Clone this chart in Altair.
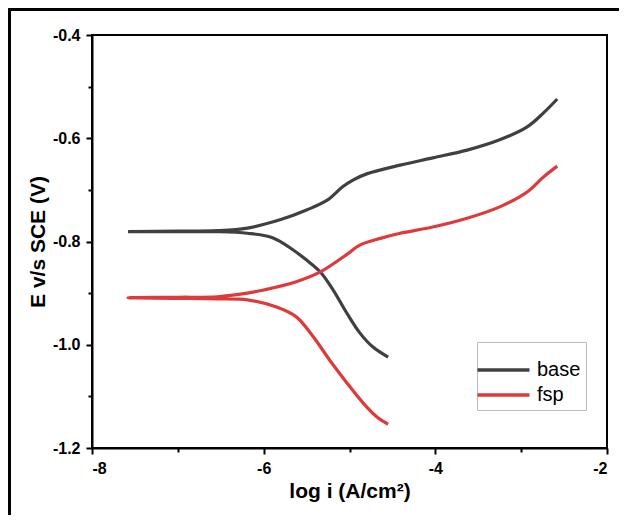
import altair as alt
import pandas as pd

# base: cathodic branch (from Ecorr outward) and anodic branch
base_cat_x = [-7.58, -7.0, -6.54, -6.19, -5.89, -5.66, -5.50, -5.34, -5.19, -5.03, -4.88, -4.73, -4.55]
base_cat_y = [-0.781, -0.781, -0.781, -0.784, -0.793, -0.816, -0.836, -0.859, -0.894, -0.939, -0.977, -1.004, -1.024]
base_an_x = [-7.58, -7.0, -6.54, -6.19, -5.81, -5.50, -5.26, -5.08, -4.96, -4.80, -4.41, -4.03, -3.63, -3.25, -2.93, -2.74, -2.58]
base_an_y = [-0.781, -0.780, -0.779, -0.774, -0.758, -0.739, -0.720, -0.694, -0.681, -0.669, -0.652, -0.638, -0.623, -0.603, -0.578, -0.551, -0.524]

# fsp
fsp_cat_x = [-7.58, -7.0, -6.54, -6.19, -5.85, -5.62, -5.42, -5.23, -5.03, -4.84, -4.68, -4.55]
fsp_cat_y = [-0.909, -0.910, -0.911, -0.913, -0.927, -0.946, -0.985, -1.030, -1.074, -1.113, -1.140, -1.154]
fsp_an_x = [-7.58, -7.0, -6.54, -6.19, -6.0, -5.62, -5.34, -5.03, -4.88, -4.64, -4.41, -4.03, -3.63, -3.25, -2.93, -2.74, -2.58]
fsp_an_y = [-0.909, -0.908, -0.907, -0.900, -0.894, -0.878, -0.859, -0.825, -0.807, -0.794, -0.784, -0.772, -0.755, -0.733, -0.704, -0.675, -0.654]

x_major = [-8, -6, -4, -2]
x_minor = [-7, -5, -3]
y_major = [-1.2, -1.0, -0.8, -0.6, -0.4]
y_minor = [-1.1, -0.9, -0.7, -0.5]

series_names = ["base", "fsp"]
series_colors = ["#404040", "#de3a3c"]


def path(name, cx, cy, ax, ay):
    xs = list(reversed(cx)) + ax[1:]
    ys = list(reversed(cy)) + ay[1:]
    return pd.DataFrame({"series": name, "x": xs, "y": ys, "order": range(len(xs))})


df = pd.concat([
    path("base", base_cat_x, base_cat_y, base_an_x, base_an_y),
    path("fsp", fsp_cat_x, fsp_cat_y, fsp_an_x, fsp_an_y),
], ignore_index=True)

FONT = "Liberation Sans"

xscale = alt.Scale(domain=[-8, -2], nice=False, zero=False)
yscale = alt.Scale(domain=[-1.2, -0.4], nice=False, zero=False)

x_label = "(datum.value < 0 ? '-' : '') + format(abs(datum.value), 'd')"
y_label = "(datum.value < 0 ? '-' : '') + format(abs(datum.value), '.1f')"

lines = alt.Chart(df).mark_line(strokeWidth=3.2, interpolate="catmull-rom").encode(
    x=alt.X("x:Q", scale=xscale, title="log i (A/cm²)",
            axis=alt.Axis(orient="bottom", values=x_major, labelExpr=x_label, tickSize=6, labelPadding=6,
                          titlePadding=4, labelFontSize=16, titleFontSize=21)),
    y=alt.Y("y:Q", scale=yscale, title="E v/s SCE (V)",
            axis=alt.Axis(orient="left", values=y_major, labelExpr=y_label, tickSize=6, labelPadding=6,
                          titlePadding=4, labelFontSize=16, titleFontSize=21)),
    color=alt.Color("series:N", scale=alt.Scale(domain=series_names, range=series_colors),
                    legend=alt.Legend(title=" ", orient="none", legendX=385, legendY=307,
                                      symbolType="M-1.5,0L2.5,0", symbolSize=676, symbolStrokeWidth=3.5,
                                      labelFontSize=20, labelFont=FONT, labelFontWeight="normal",
                                      labelColor="black",
                                      titleFontSize=8, titlePadding=0, padding=5, rowPadding=0,
                                      labelOffset=25, strokeColor="#bbbbbb", fillColor="white")),
    order="order:O",
)

minor_df = pd.DataFrame({"x": [-8.0], "y": [-1.2]})
minor = alt.Chart(minor_df).mark_point(opacity=0).encode(
    x=alt.X("x:Q", scale=xscale, title=None,
            axis=alt.Axis(orient="bottom", values=x_minor, labels=False, domain=False, tickSize=4, grid=False)),
    y=alt.Y("y:Q", scale=yscale, title=None,
            axis=alt.Axis(orient="left", values=y_minor, labels=False, domain=False, tickSize=4, grid=False)),
)

frame_df = pd.DataFrame({"a": [0]})
frame_left = alt.Chart(frame_df).mark_rule(color="black", strokeWidth=3).encode(
    x=alt.value(-82.5), y=alt.value(-27), y2=alt.value(480))
frame_top = alt.Chart(frame_df).mark_rule(color="black", strokeWidth=3).encode(
    x=alt.value(-84), x2=alt.value(527), y=alt.value(-25.5))

chart = alt.layer(lines, minor, frame_left, frame_top).resolve_axis(
    x="independent", y="independent"
).properties(
    width=515, height=413,
    autosize=alt.AutoSizeParams(type="none"),
    padding={"left": 84, "top": 27, "right": 12, "bottom": 67},
).configure_view(
    stroke="black", strokeWidth=2
).configure_axis(
    grid=False, domainColor="black", domainWidth=2, tickColor="black", tickWidth=2,
    labelFont=FONT, titleFont=FONT, labelFontWeight="bold", titleFontWeight="bold",
    labelColor="black", titleColor="black",
)

chart.save("out.html", embed_options={"renderer": "svg", "actions": False})
